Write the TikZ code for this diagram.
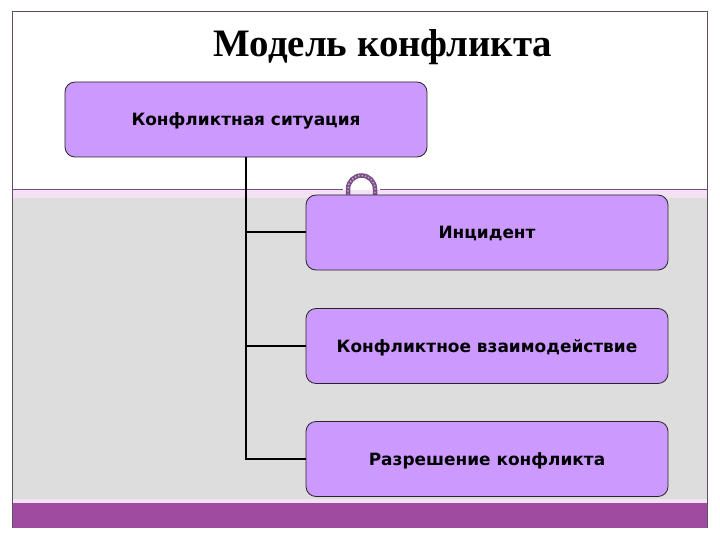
\documentclass[tikz,border=0pt]{standalone}
\usepackage{fontspec}
\setmainfont{Liberation Serif}
\newfontfamily\boxfont{DejaVu Sans}
\definecolor{boxviolet}{HTML}{CC99FF}
\definecolor{slidegray}{HTML}{DDDDDD}
\definecolor{barpurple}{HTML}{9E4BA0}
\definecolor{stripepink}{HTML}{F4E2F4}
\definecolor{framegray}{HTML}{5E505E}
\definecolor{ringpurple}{HTML}{7A4E86}

\begin{document}
\begin{tikzpicture}[x=1bp,y=-1bp,
    stage/.style={draw=black!85,line width=0.8bp,fill=boxviolet,rounded corners=10bp,
        minimum width=362bp,minimum height=75bp,text depth=0pt,
        font=\boxfont\bfseries\fontsize{17}{20}\selectfont},
    link/.style={line width=2bp}]
    \useasboundingbox (0,0) rectangle (720,540);

    % slide background
    \fill[stripepink] (12,190) rectangle (707,198);
    \fill[slidegray] (12,198) rectangle (707,499);
    \fill[stripepink] (12,499) rectangle (707,503);
    \fill[barpurple] (12,503) rectangle (707,528);
    \draw[ringpurple,line width=1bp] (12,190)--(343,190) (380,190)--(707,190);
    \draw[framegray,line width=1bp] (12,528)--(12,12)--(707,12)--(707,528);

    % ring
    \draw[ringpurple,line width=4.5bp] (348,195)--(348,189) arc[start angle=180,end angle=0,radius=13.5bp]--(375,195);
    \draw[white!55!ringpurple,line width=1.4bp,dotted] (348,195)--(348,189) arc[start angle=180,end angle=0,radius=13.5bp]--(375,195);

    \node (title) at (383,47) {\bfseries\fontsize{39}{45}\selectfont Модель конфликта};

    \node[stage] (sit) at (246,119.5) {Конфликтная ситуация};
    \node[stage] (inc) at (487,232.5) {Инцидент};
    \node[stage] (act) at (487,346) {Конфликтное взаимодействие};
    \node[stage] (res) at (487,459) {Разрешение конфликта};

    \draw[link] (sit.south) |- (res.west);
    \foreach \b in {inc,act}
        \draw[link] (sit.south |- \b.west) -- (\b.west);
\end{tikzpicture}
\end{document}
